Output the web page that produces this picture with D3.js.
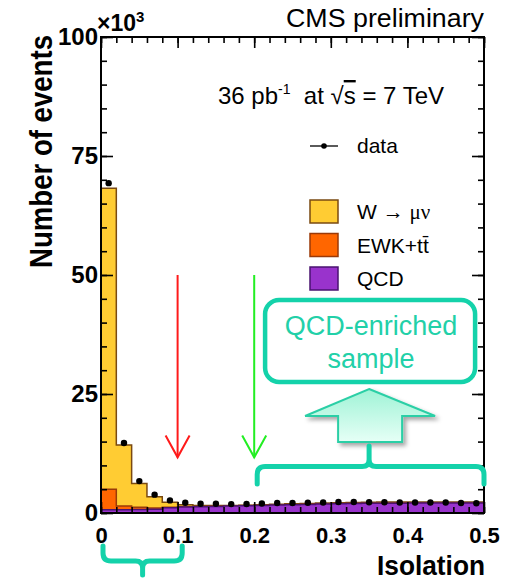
<!DOCTYPE html>
<html>
<head>
<meta charset="utf-8">
<script src="https://cdn.jsdelivr.net/npm/d3@7"></script>
<style>
  body { margin: 0; background: #fff; }
  text { font-family: "Liberation Sans", Arial, Helvetica, sans-serif; }
</style>
</head>
<body>
<svg id="chart" width="507" height="581"></svg>
<script>
// isolation bins (lower edge), width 0.02
const binLow = [0.00, 0.02, 0.04, 0.06, 0.08, 0.10, 0.12, 0.14, 0.16, 0.18,
                0.20, 0.22, 0.24, 0.26, 0.28, 0.30, 0.32, 0.34, 0.36, 0.38,
                0.40, 0.42, 0.44, 0.46, 0.48];
const binWidth = 0.02;

// events per bin, x10^3
const dataCounts = [69.3, 14.7, 6.7, 3.85, 2.65, 2.15, 1.95, 1.95, 1.87, 1.89,
                    2.0, 2.1, 2.1, 2.15, 2.2, 2.3, 2.3, 2.25, 2.25, 2.2,
                    2.2, 2.2, 2.2, 2.1, 2.05];
const wMuNu = [63.2, 12.85, 5.0, 2.35, 1.03, 0.42, 0.24, 0.15, 0.1, 0.1,
               0.1, 0.1, 0.15, 0.15, 0.15, 0.15, 0.15, 0.15, 0.2, 0.2,
               0.15, 0.15, 0.15, 0.15, 0.15];
const ewkTT = [4.3, 0.75, 0.45, 0.25, 0.12, 0.08, 0.06, 0.05, 0.05, 0.05,
               0.05, 0.05, 0.05, 0.05, 0.05, 0.05, 0.05, 0.05, 0.05, 0.05,
               0.05, 0.04, 0.04, 0.04, 0.04];
const qcd = [0.7, 0.7, 0.75, 0.8, 1.1, 1.25, 1.3, 1.35, 1.45, 1.5,
             1.6, 1.7, 1.75, 1.8, 1.9, 1.95, 2.0, 2.05, 2.05, 2.05,
             2.1, 2.1, 2.1, 2.1, 2.1];

const xMajor = [0, 0.1, 0.2, 0.3, 0.4, 0.5];
const yMajor = [0, 25, 50, 75, 100];
const cuts = [0.1, 0.2];

const svg = d3.select("#chart");
const teal = "#14d2aa";

const plot = {left: 101, right: 484, top: 37, bottom: 513};

const x = d3.scaleLinear().domain([0, 0.5]).range([plot.left, plot.right]);
const y = d3.scaleLinear().domain([0, 100]).range([plot.bottom, plot.top]);

const defs = svg.append("defs");
const grad = defs.append("linearGradient").attr("id", "arrowGrad")
    .attr("x1", 0).attr("y1", 0).attr("x2", 0).attr("y2", 1);
grad.append("stop").attr("offset", "0%").attr("stop-color", "#9ff3d6");
grad.append("stop").attr("offset", "100%").attr("stop-color", "#e6fff6");
defs.append("filter").attr("id", "shadow")
    .attr("x", "-20%").attr("y", "-20%").attr("width", "150%").attr("height", "150%")
  .append("feDropShadow")
    .attr("dx", 3).attr("dy", 3).attr("stdDeviation", 2)
    .attr("flood-color", "#000").attr("flood-opacity", 0.35);

// stacked histogram: QCD bottom, EWK, W on top
const rows = binLow.map((b, i) => ({x0: b, qcd: qcd[i], ewk: ewkTT[i], w: wMuNu[i]}));
const stack = d3.stack().keys(["qcd", "ewk", "w"])(rows);

const fills = {qcd: "#9933cc", ewk: "#ff6600", w: "#ffcc33"};
const strokes = {qcd: "#4a1370", ewk: "#9a3a08", w: "#7a4a12"};

function stepPoints(layer) {
    const pts = layer.map(d => ({x: d.data.x0, y: d[1]}));
    pts.push({x: binLow[binLow.length - 1] + binWidth, y: layer[layer.length - 1][1]});
    return pts;
}

const area = d3.area().curve(d3.curveStepAfter)
    .x(d => x(d.x)).y0(y(0)).y1(d => y(d.y));
const line = d3.line().curve(d3.curveStepAfter)
    .x(d => x(d.x)).y(d => y(d.y));

// draw cumulative sums from the top one down, like THStack
stack.slice().reverse().forEach(layer => {
    const pts = stepPoints(layer);
    svg.append("path").attr("d", area(pts)).attr("fill", fills[layer.key]);
    svg.append("path").attr("d", line(pts)).attr("fill", "none")
        .attr("stroke", strokes[layer.key]).attr("stroke-width", 1.5);
    // vertical edge at first bin
    svg.append("line")
        .attr("x1", x(0)).attr("x2", x(0))
        .attr("y1", y(0)).attr("y2", y(pts[0].y))
        .attr("stroke", strokes[layer.key]).attr("stroke-width", 1.5);
});

// data points
svg.append("g").selectAll("circle")
    .data(dataCounts)
    .enter()
    .append("circle")
        .attr("cx", (d, i) => x(binLow[i] + binWidth / 2))
        .attr("cy", d => y(d))
        .attr("r", 3.2)
        .attr("fill", "#000");

// axes, ticks inside the frame
function ticksOnly(axis, g) {
    g.call(axis);
    g.select(".domain").remove();
    g.selectAll("line").attr("stroke", "#000").attr("stroke-width", 1.6);
}

const xMinorVals = d3.range(0, 0.5001, 0.02);
const yMinorVals = d3.range(0, 100.01, 5);

ticksOnly(d3.axisBottom(x).tickValues(xMinorVals).tickSize(-6).tickFormat(""),
    svg.append("g").attr("transform", `translate(0,${plot.bottom})`));
ticksOnly(d3.axisTop(x).tickValues(xMinorVals).tickSize(-6).tickFormat(""),
    svg.append("g").attr("transform", `translate(0,${plot.top})`));
ticksOnly(d3.axisLeft(y).tickValues(yMinorVals).tickSize(-6).tickFormat(""),
    svg.append("g").attr("transform", `translate(${plot.left},0)`));
ticksOnly(d3.axisRight(y).tickValues(yMinorVals).tickSize(-6).tickFormat(""),
    svg.append("g").attr("transform", `translate(${plot.right},0)`));

const xAxisG = svg.append("g").attr("transform", `translate(0,${plot.bottom})`);
ticksOnly(d3.axisBottom(x).tickValues(xMajor).tickSize(-11).tickPadding(14)
    .tickFormat(d => d === 0 ? "0" : d3.format(".1f")(d)), xAxisG);
xAxisG.selectAll("text").attr("fill", "#000")
    .style("font-size", "22px").style("font-weight", "bold")
    .style("font-family", "'Liberation Sans', Arial, sans-serif");
ticksOnly(d3.axisTop(x).tickValues(xMajor).tickSize(-11).tickFormat(""),
    svg.append("g").attr("transform", `translate(0,${plot.top})`));

const yAxisG = svg.append("g").attr("transform", `translate(${plot.left},0)`);
ticksOnly(d3.axisLeft(y).tickValues(yMajor).tickSize(-12).tickPadding(3), yAxisG);
yAxisG.selectAll("text").attr("fill", "#000")
    .style("font-size", "24px").style("font-weight", "bold")
    .style("font-family", "'Liberation Sans', Arial, sans-serif");
ticksOnly(d3.axisRight(y).tickValues(yMajor).tickSize(-12).tickFormat(""),
    svg.append("g").attr("transform", `translate(${plot.right},0)`));

// frame
svg.append("rect")
    .attr("x", plot.left).attr("y", plot.top)
    .attr("width", plot.right - plot.left).attr("height", plot.bottom - plot.top)
    .attr("fill", "none").attr("stroke", "#000").attr("stroke-width", 2);

// x10^3
const mult = svg.append("text").attr("x", 97).attr("y", 31)
    .style("font-size", "23px").style("font-weight", "bold");
mult.append("tspan").text("×10");
mult.append("tspan").attr("dy", -9).style("font-size", "15px").text("3");

// axis titles
svg.append("text")
    .attr("transform", "translate(52,35) rotate(-90)")
    .attr("text-anchor", "end")
    .attr("textLength", 233).attr("lengthAdjust", "spacingAndGlyphs")
    .style("font-size", "31px").style("font-weight", "bold")
    .text("Number of events");

svg.append("text")
    .attr("x", 485).attr("y", 575).attr("text-anchor", "end")
    .attr("textLength", 108).attr("lengthAdjust", "spacingAndGlyphs")
    .style("font-size", "28px").style("font-weight", "bold")
    .text("Isolation");

svg.append("text")
    .attr("x", 484).attr("y", 27).attr("text-anchor", "end")
    .attr("textLength", 198).attr("lengthAdjust", "spacingAndGlyphs")
    .style("font-size", "25px")
    .text("CMS preliminary");

// lumi / energy
const lumi = svg.append("text").attr("x", 218).attr("y", 104).style("font-size", "24px");
lumi.append("tspan").text("36 pb");
lumi.append("tspan").attr("dy", -10).style("font-size", "14px").text("-1");
lumi.append("tspan").attr("dy", 10).text("\u00a0 at \u221a");
lumi.append("tspan").style("text-decoration", "overline").text("s");
lumi.append("tspan").text(" = 7 TeV");

// legend
const lgX = 310, lgW = 28, lgH = 23;
svg.append("line").attr("x1", lgX).attr("x2", lgX + lgW)
    .attr("y1", 146).attr("y2", 146).attr("stroke", "#000").attr("stroke-width", 1.3);
svg.append("circle").attr("cx", lgX + lgW / 2).attr("cy", 146).attr("r", 2.8);
svg.append("text").attr("x", 357).attr("y", 153).style("font-size", "21px").text("data");

const legendKeys = ["w", "ewk", "qcd"];
const legendTop = [200, 233.5, 267];
legendKeys.forEach((k, i) => {
    svg.append("rect").attr("x", lgX).attr("y", legendTop[i])
        .attr("width", lgW).attr("height", lgH)
        .attr("fill", fills[k]).attr("stroke", strokes[k]).attr("stroke-width", 1.5);
});
const lw = svg.append("text").attr("x", 357).attr("y", legendTop[0] + 19).style("font-size", "21px");
lw.append("tspan").text("W \u2192 ");
lw.append("tspan").style("font-family", "'Liberation Serif', 'DejaVu Serif', serif").text("\u03bc\u03bd");
svg.append("text").attr("x", 357).attr("y", legendTop[1] + 19).style("font-size", "21px")
    .text("EWK+tt\u0304");
svg.append("text").attr("x", 357).attr("y", legendTop[2] + 19).style("font-size", "21px")
    .text("QCD");

// cut arrows
const cutColors = ["#ff1a1a", "#22ee22"];
cuts.forEach((c, i) => {
    const g = svg.append("g").attr("stroke", cutColors[i]).attr("stroke-width", 2).attr("fill", "none");
    g.append("line").attr("x1", x(c)).attr("x2", x(c)).attr("y1", y(50)).attr("y2", y(11.7));
    g.append("polyline").attr("points",
        [[x(c) - 12, y(16.3)], [x(c), y(11.7)], [x(c) + 12, y(16.3)]].map(p => p.join(",")).join(" "));
});

// annotation: QCD-enriched sample
const cx = x(0.35);
svg.append("rect").attr("x", cx - 104).attr("y", 300).attr("width", 210).attr("height", 82)
    .attr("rx", 14).attr("fill", "#fff").attr("stroke", teal).attr("stroke-width", 4.5);
svg.append("text").attr("x", cx + 2).attr("y", 335).attr("text-anchor", "middle")
    .attr("fill", "#22d0a8").style("font-size", "27px").text("QCD-enriched");
svg.append("text").attr("x", cx + 2).attr("y", 368).attr("text-anchor", "middle")
    .attr("fill", "#22d0a8").style("font-size", "27px").text("sample");

svg.append("polygon")
    .attr("points", [[cx, 389], [cx + 66, 416], [cx + 33, 416], [cx + 33, 442],
                     [cx - 31, 442], [cx - 31, 416], [cx - 64, 416]].map(p => p.join(",")).join(" "))
    .attr("fill", "url(#arrowGrad)").attr("stroke", "#2ccfa6").attr("stroke-width", 2)
    .attr("filter", "url(#shadow)");

// braces
const bx0 = x(0.2) + 3, bx1 = x(0.5), by = 466.5;
svg.append("path")
    .attr("d", `M${bx0},484 L${bx0},${by + 8} Q${bx0},${by} ${bx0 + 8},${by}
                L${cx - 7},${by} Q${cx},${by} ${cx},${by - 7} L${cx},446
                M${cx},${by - 7} Q${cx},${by} ${cx + 7},${by}
                L${bx1 - 8},${by} Q${bx1},${by} ${bx1},${by + 8} L${bx1},484`)
    .attr("fill", "none").attr("stroke", teal).attr("stroke-width", 5)
    .attr("stroke-linecap", "round").attr("stroke-linejoin", "round");

const lx0 = x(0) + 2, lx1 = x(0.106), lcx = (lx0 + lx1) / 2, ly = 561;
svg.append("path")
    .attr("d", `M${lx0},546 L${lx0},${ly - 8} Q${lx0},${ly} ${lx0 + 8},${ly}
                L${lcx - 7},${ly} Q${lcx},${ly} ${lcx},${ly + 7} L${lcx},575
                M${lcx},${ly + 7} Q${lcx},${ly} ${lcx + 7},${ly}
                L${lx1 - 8},${ly} Q${lx1},${ly} ${lx1},${ly - 8} L${lx1},546`)
    .attr("fill", "none").attr("stroke", teal).attr("stroke-width", 5)
    .attr("stroke-linecap", "round").attr("stroke-linejoin", "round");
</script>
</body>
</html>
